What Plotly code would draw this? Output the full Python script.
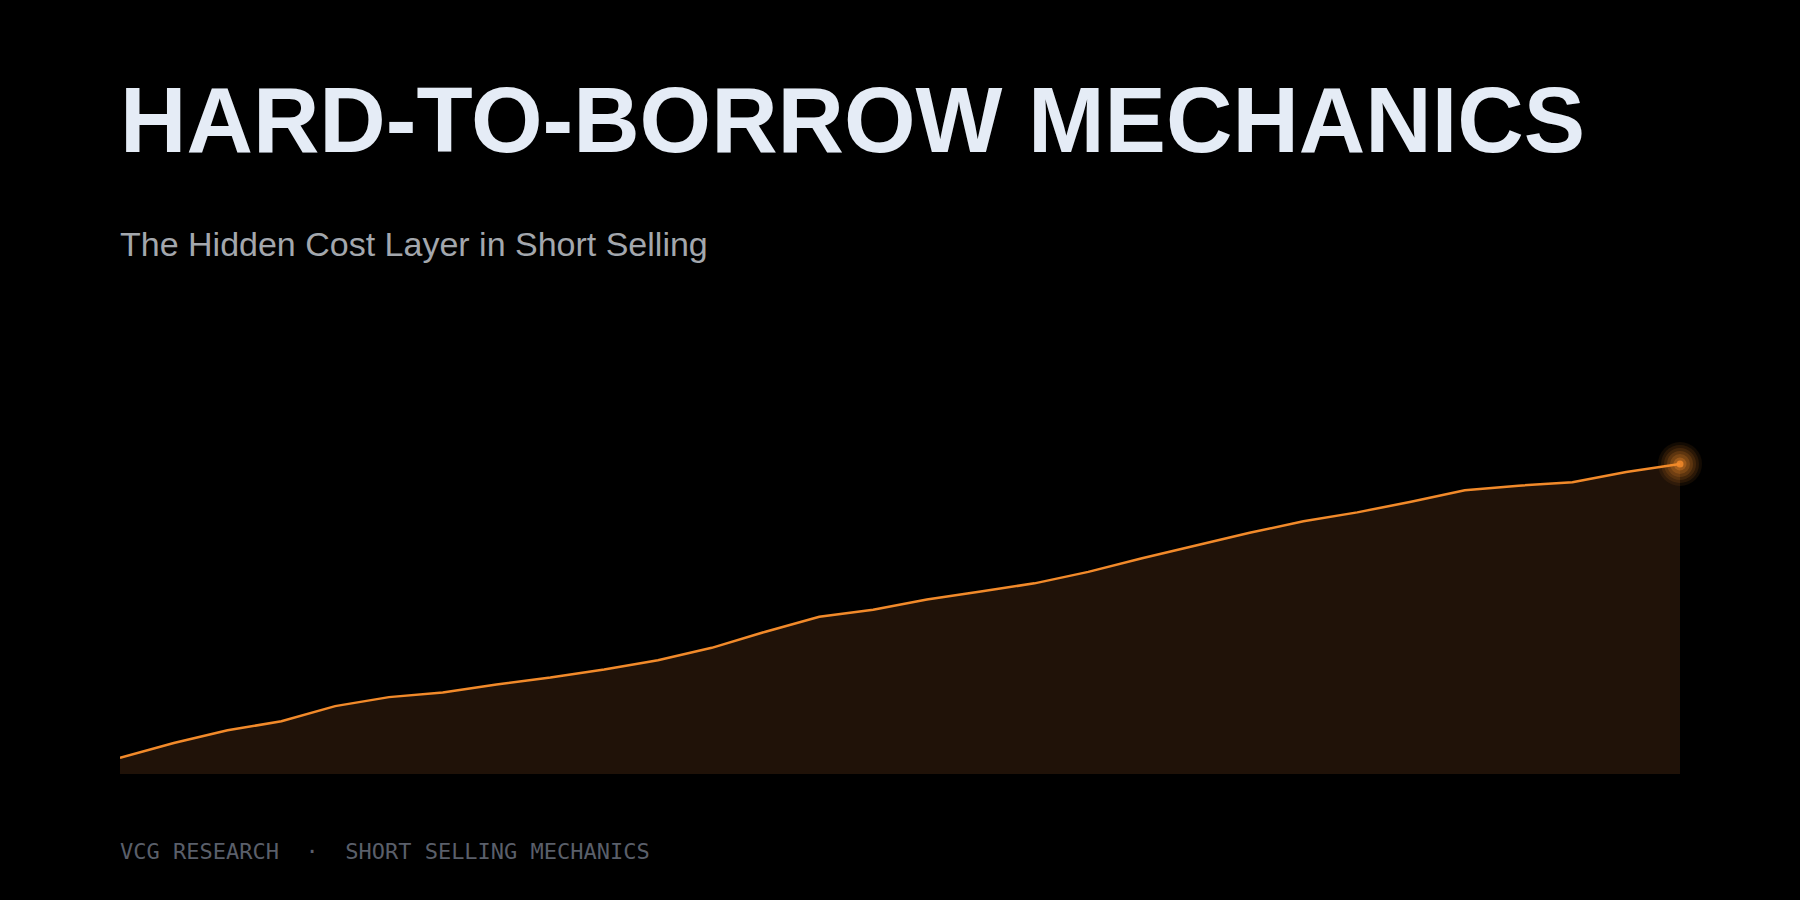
import plotly.graph_objects as go

days = list(range(30))
borrow_cost = [5.2, 10.0, 14.1, 17.0, 21.9, 24.8, 26.3, 28.9, 31.1, 33.7,
               36.7, 40.7, 45.9, 50.7, 53.0, 56.3, 58.9, 61.5, 65.2, 69.6,
               73.7, 77.8, 81.5, 84.4, 87.8, 91.5, 93.0, 94.1, 97.4, 100.0]

title_text = "HARD-TO-BORROW MECHANICS"
subtitle_text = "The Hidden Cost Layer in Short Selling"
footer_text = "VCG RESEARCH\u00a0\u00a0·\u00a0\u00a0SHORT SELLING MECHANICS"

ORANGE = "#f28a2a"

fig = go.Figure()

fig.add_trace(go.Scatter(
    x=days, y=borrow_cost, mode="lines",
    line=dict(color=ORANGE, width=2.5),
    fill="tozeroy", fillcolor="#201208",
    hoverinfo="skip", showlegend=False,
))

# soft glow on the last point
for size, alpha in [(44, 0.08), (38, 0.10), (32, 0.12), (26, 0.16), (20, 0.2), (13, 0.3), (7, 0.85)]:
    fig.add_trace(go.Scatter(
        x=[days[-1]], y=[borrow_cost[-1]], mode="markers",
        marker=dict(size=size, color=ORANGE, opacity=alpha, line=dict(width=0)),
        hoverinfo="skip", showlegend=False, cliponaxis=False,
    ))

fig.add_annotation(text=title_text, xref="paper", yref="paper", x=0, y=1.407, xshift=-2,
                   xanchor="left", yanchor="middle", showarrow=False,
                   font=dict(family="Liberation Sans, Arial, sans-serif", size=92,
                             color="#e5ecf6", weight="bold"))
fig.add_annotation(text=subtitle_text, xref="paper", yref="paper", x=0, y=1.14, xshift=-2,
                   xanchor="left", yanchor="middle", showarrow=False,
                   font=dict(family="Liberation Sans, Arial, sans-serif", size=34,
                             color="#a3a7ad"))
fig.add_annotation(text=footer_text, xref="paper", yref="paper", x=0, y=-0.166, xshift=-2,
                   xanchor="left", yanchor="middle", showarrow=False,
                   font=dict(family="DejaVu Sans Mono, monospace", size=22,
                             color="#5a5f6a"))

fig.update_layout(
    width=1800, height=900,
    margin=dict(l=120, r=120, t=309, b=126),
    paper_bgcolor="#000000", plot_bgcolor="#000000",
    xaxis=dict(range=[0, 29], visible=False, showgrid=False, zeroline=False),
    yaxis=dict(range=[0, 150], visible=False, showgrid=False, zeroline=False),
)

fig.write_html("out.html", config={"displayModeBar": False},
               post_script="document.body.style.margin='0';document.body.style.background='#000';")
